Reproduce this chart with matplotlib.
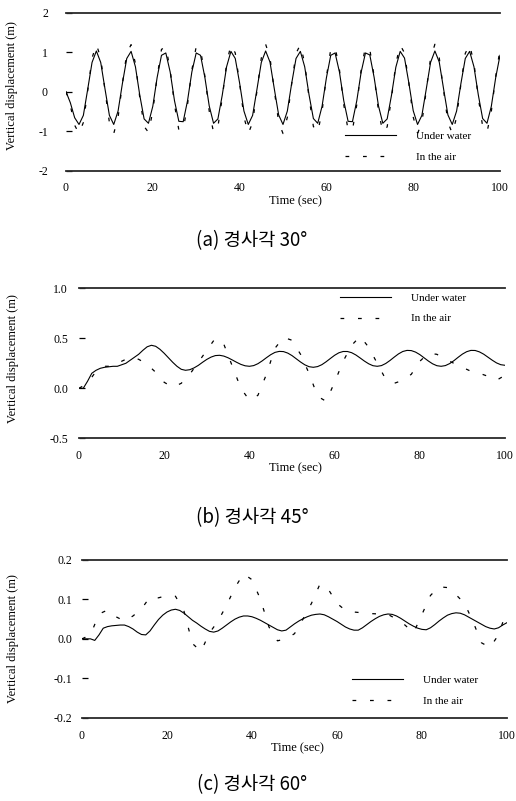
import numpy as np
import matplotlib
matplotlib.use('Agg')
import matplotlib.pyplot as plt

plt.rcParams['font.family'] = ['Liberation Serif', 'DejaVu Serif']
plt.rcParams['axes.unicode_minus'] = False

# ---- data ----
time_1s = np.arange(0, 101, 1)
time_2s = np.arange(0, 101, 2)

# (a) 30 deg
a_water = [0.0, -0.28, -0.66, -0.83, -0.60, 0.06, 0.74, 1.03, 0.74, 0.06,
           -0.60, -0.83, -0.49, 0.21, 0.84, 1.02, 0.63, -0.09, -0.69, -0.80,
           -0.37, 0.36, 0.92, 0.98, 0.50, -0.23, -0.75, -0.76, -0.23, 0.50,
           0.98, 0.92, 0.36, -0.36, -0.80, -0.69, -0.09, 0.63, 1.02, 0.84,
           0.22, -0.49, -0.83, -0.60, 0.06, 0.74, 1.03, 0.75, 0.07, -0.59,
           -0.83, -0.49, 0.21, 0.84, 1.02, 0.63, -0.08, -0.68, -0.80, -0.37,
           0.35, 0.92, 0.98, 0.50, -0.23, -0.75, -0.76, -0.23, 0.49, 0.98,
           0.93, 0.36, -0.36, -0.80, -0.69, -0.09, 0.62, 1.02, 0.85, 0.22,
           -0.48, -0.83, -0.60, 0.06, 0.74, 1.03, 0.75, 0.07, -0.59, -0.83,
           -0.49, 0.21, 0.84, 1.02, 0.63, -0.08, -0.68, -0.80, -0.37, 0.35,
           0.92]
a_air = [0.0, -0.35, -0.85, -1.06, -0.78, 0.02, 0.85, 1.20, 0.85, 0.02,
         -0.78, -1.06, -0.65, 0.21, 0.97, 1.19, 0.71, -0.15, -0.88, -1.03,
         -0.50, 0.38, 1.07, 1.14, 0.56, -0.33, -0.97, -0.97, -0.33, 0.55,
         1.14, 1.07, 0.39, -0.49, -1.03, -0.89, -0.16, 0.71, 1.19, 0.98,
         0.21, -0.64, -1.06, -0.78, 0.02, 0.85, 1.20, 0.86, 0.03, -0.77,
         -1.06, -0.65, 0.20, 0.97, 1.19, 0.72, -0.15, -0.88, -1.03, -0.50,
         0.38, 1.07, 1.14, 0.56, -0.33, -0.97, -0.97, -0.33, 0.55, 1.14,
         1.07, 0.39, -0.49, -1.03, -0.89, -0.16, 0.71, 1.18, 0.98, 0.21,
         -0.64, -1.06, -0.78, 0.02, 0.85, 1.20, 0.86, 0.03, -0.77, -1.06,
         -0.65, 0.20, 0.97, 1.19, 0.72, -0.15, -0.88, -1.03, -0.50, 0.38,
         1.07]

# (b) 45 deg
b_water = [0.0, 0.0, 0.07, 0.15, 0.18, 0.20, 0.21, 0.215, 0.22, 0.22,
           0.235, 0.25, 0.28, 0.31, 0.34, 0.38, 0.415, 0.43, 0.42, 0.39,
           0.35, 0.305, 0.26, 0.22, 0.19, 0.18, 0.186, 0.204, 0.229, 0.26,
           0.289, 0.312, 0.327, 0.33, 0.322, 0.305, 0.283, 0.26, 0.239, 0.225,
           0.22, 0.227, 0.246, 0.274, 0.306, 0.336, 0.359, 0.369, 0.367, 0.352,
           0.327, 0.295, 0.263, 0.235, 0.216, 0.21, 0.217, 0.236, 0.265, 0.298,
           0.33, 0.355, 0.368, 0.368, 0.356, 0.333, 0.303, 0.272, 0.245, 0.226,
           0.22, 0.227, 0.248, 0.278, 0.312, 0.344, 0.368, 0.379, 0.377, 0.362,
           0.337, 0.305, 0.273, 0.245, 0.226, 0.22, 0.227, 0.247, 0.276, 0.31,
           0.342, 0.366, 0.379, 0.378, 0.364, 0.341, 0.311, 0.281, 0.254, 0.236,
           0.23]
b_air = [0.0, 0.05, 0.17, 0.22, 0.22, 0.27, 0.31, 0.29, 0.24, 0.16,
         0.06, 0.01, 0.05, 0.14, 0.26, 0.38, 0.50, 0.44, 0.22, 0.0,
         -0.12, -0.07, 0.14, 0.40, 0.51, 0.48, 0.34, 0.15, -0.08, -0.13,
         0.06, 0.27, 0.43, 0.52, 0.41, 0.25, 0.09, 0.05, 0.08, 0.14,
         0.27, 0.35, 0.34, 0.29, 0.25, 0.21, 0.17, 0.15, 0.12, 0.08,
         0.13]

# (c) 60 deg
c_water = [0.0, 0.0, 0.0, -0.004, 0.01, 0.027, 0.031, 0.033, 0.034, 0.035,
           0.035, 0.031, 0.025, 0.017, 0.011, 0.01, 0.02, 0.035, 0.049, 0.06,
           0.068, 0.073, 0.075, 0.072, 0.065, 0.056, 0.047, 0.04, 0.032, 0.025,
           0.019, 0.017, 0.02, 0.027, 0.035, 0.043, 0.05, 0.055, 0.058, 0.058,
           0.056, 0.052, 0.047, 0.041, 0.035, 0.029, 0.023, 0.02, 0.022, 0.03,
           0.038, 0.045, 0.051, 0.056, 0.06, 0.062, 0.063, 0.061, 0.056, 0.05,
           0.044, 0.037, 0.03, 0.025, 0.022, 0.022, 0.028, 0.036, 0.044, 0.051,
           0.057, 0.061, 0.063, 0.062, 0.058, 0.052, 0.045, 0.038, 0.032, 0.027,
           0.024, 0.023, 0.028, 0.036, 0.045, 0.053, 0.06, 0.064, 0.066, 0.065,
           0.061, 0.055, 0.049, 0.043, 0.037, 0.031, 0.027, 0.025, 0.028, 0.035,
           0.041]
c_air = [0.0, 0.01, 0.063, 0.073, 0.056, 0.045, 0.058, 0.076, 0.106, 0.104,
         0.11, 0.108, 0.07, -0.012, -0.032, 0.015, 0.045, 0.085, 0.13, 0.165,
         0.15, 0.10, 0.03, -0.005, 0.0, 0.013, 0.05, 0.09, 0.139, 0.125,
         0.09, 0.072, 0.068, 0.066, 0.064, 0.063, 0.062, 0.05, 0.035, 0.015,
         0.062, 0.11, 0.132, 0.13, 0.112, 0.09, 0.044, -0.01, -0.022, 0.01,
         0.073]

xticks = [0, 20, 40, 60, 80, 100]
a_yticks = [2, 1, 0, -1, -2]
a_ylabels = ['2', '1', '0', '-1', '-2']
b_yticks = [1.0, 0.5, 0.0, -0.5]
b_ylabels = ['1.0', '0.5', '0.0', '-0.5']
c_yticks = [0.2, 0.1, 0.0, -0.1, -0.2]
c_ylabels = ['0.2', '0.1', '0.0', '-0.1', '-0.2']

captions = ['(a) 경사각 30°', '(b) 경사각 45°', '(c) 경사각 60°']

fig = plt.figure(figsize=(5.16, 8.01), dpi=100)

ax_a = fig.add_axes([0.1279, 0.7869, 0.8411, 0.1973])
ax_b = fig.add_axes([0.1531, 0.4528, 0.8256, 0.1873])
ax_c = fig.add_axes([0.1589, 0.1040, 0.8236, 0.1969])

dash = (0, (3, 11))


def draw_panel(ax, t_w, water, t_a, air, yticks, ylabels, ytick_pad, xtick_pad,
               xlabel_pos, ylabel_pos, leg_anchor):
    ax.plot(t_w, water, color='black', lw=0.8, label='Under water')
    ax.plot(t_a, air, color='black', lw=0.9, linestyle=dash, label='In the air')
    ax.set_xlim(0, 100)
    ax.set_ylim(yticks[-1], yticks[0])
    ax.set_xticks(xticks)
    ax.set_xticklabels([str(x) for x in xticks])
    ax.set_yticks(yticks)
    ax.set_yticklabels(ylabels)
    for side in ['left', 'right']:
        ax.spines[side].set_visible(False)
    for side in ['top', 'bottom']:
        ax.spines[side].set_color('#2a2a2a')
        ax.spines[side].set_linewidth(1.3)
    ax.tick_params(axis='x', length=0, pad=xtick_pad, labelsize=8.5)
    ax.tick_params(axis='y', direction='in', length=4.5, width=0.9,
                   pad=ytick_pad, labelsize=8.5)
    ax.set_xlabel('Time (sec)', fontsize=9)
    ax.xaxis.set_label_coords(*xlabel_pos)
    ax.set_ylabel('Vertical displacement (m)', fontsize=9)
    ax.yaxis.set_label_coords(*ylabel_pos)
    ax.legend(loc='upper left', bbox_to_anchor=leg_anchor, frameon=False,
              fontsize=8, handlelength=4.6, handletextpad=1.8,
              labelspacing=1.0, borderpad=0, borderaxespad=0)


draw_panel(ax_a, time_1s, a_water, time_1s, a_air, a_yticks, a_ylabels,
           13, 8, (0.528, -0.155), (-0.11, 0.54), (0.643, 0.25))
draw_panel(ax_b, time_1s, b_water, time_2s, b_air, b_yticks, b_ylabels,
           8, 8.5, (0.507, -0.16), (-0.14, 0.53), (0.613, 0.97))
draw_panel(ax_c, time_1s, c_water, time_2s, c_air, c_yticks, c_ylabels,
           7, 8.5, (0.506, -0.155), (-0.148, 0.50), (0.635, 0.27))

cap_y = [241, 518, 785]
for cap, y in zip(captions, cap_y):
    fig.text(252 / 516, 1 - y / 801, cap, ha='center', va='center',
             fontsize=13.5, family=['Noto Sans CJK KR', 'DejaVu Sans'])

fig.savefig('out.png', dpi=100)
